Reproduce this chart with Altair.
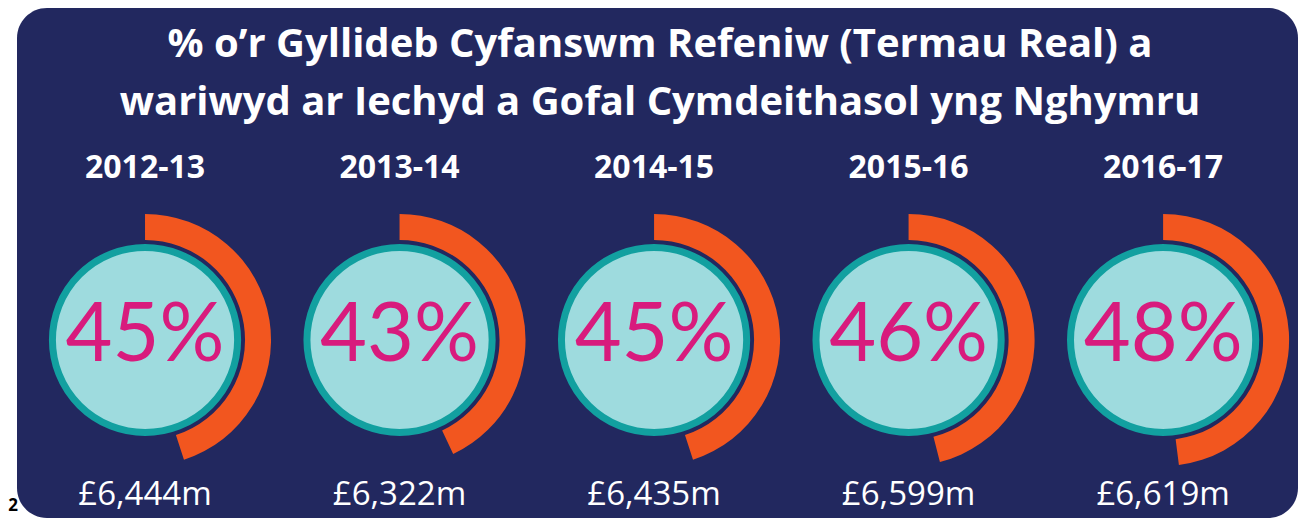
import altair as alt
import pandas as pd
import math

years = ["2012-13", "2013-14", "2014-15", "2015-16", "2016-17"]
pcts = [45, 43, 45, 46, 48]
amounts = ["£6,444m", "£6,322m", "£6,435m", "£6,599m", "£6,619m"]
title_lines = [
    "% o’r Gyllideb Cyfanswm Refeniw (Termau Real) a",
    "wariwyd ar Iechyd a Gofal Cymdeithasol yng Nghymru",
]
page_note = ["2"]

NAVY = "#22285f"
ORANGE = "#f2561f"
TEAL = "#12a0a0"
FILL = "#9edbde"
MAGENTA = "#d81b7d"
FONT = "Open Sans"
PCT_FONT = "Lato"

df = pd.DataFrame({
    "idx": list(range(len(years))),
    "year": years,
    "pct": pcts,
    "amount": amounts,
})
df["label"] = [f"{p}%" for p in pcts]

x_scale = alt.Scale(domain=[-0.503, 4.53])
x_enc = alt.X("idx:Q", scale=x_scale, axis=None, stack=None)
base = alt.Chart(df).encode(x=x_enc)

CY = 332

arcs = base.mark_arc(color=ORANGE, opacity=1).encode(
    y=alt.value(CY),
    theta=alt.Theta("pct:Q", stack=None,
                    scale=alt.Scale(domain=[0, 100], range=[0, 2 * math.pi], zero=True)),
    theta2=alt.value(0),
    radius=alt.value(126),
    radius2=alt.value(100),
)

circles = base.mark_point(
    shape="circle", filled=False, size=34300, fill=FILL, fillOpacity=1,
    stroke=TEAL, strokeOpacity=1, strokeWidth=7, opacity=1
).encode(y=alt.value(CY))

pct_text = base.mark_text(
    font=PCT_FONT, fontSize=81, fontWeight="normal", color=MAGENTA,
    align="center", baseline="alphabetic"
).encode(y=alt.value(353), text="label:N")

year_text = base.mark_text(
    font=FONT, fontSize=32, fontWeight="bold", color="white",
    align="center", baseline="alphabetic"
).encode(y=alt.value(170), text="year:N")

amount_text = base.mark_text(
    font=FONT, fontSize=33, color="white",
    align="center", baseline="alphabetic"
).encode(y=alt.value(497), text="amount:N")

tdf = pd.DataFrame({"line": title_lines, "row": [0, 1]})
title = alt.Chart(tdf).mark_text(
    font=FONT, fontSize=40, fontWeight="bold", color="white",
    align="center", baseline="alphabetic"
).encode(
    x=alt.value(643),
    y=alt.Y("row:Q", scale=alt.Scale(domain=[0, 1], range=[49, 107]), axis=None),
    text="line:N",
)

note = alt.Chart(pd.DataFrame({"t": page_note})).mark_text(
    font=FONT, fontSize=17, fontWeight="bold", color="black",
    align="center", baseline="alphabetic"
).encode(x=alt.value(-4), y=alt.value(503), text="t:N")

chart = alt.layer(
    arcs, circles, pct_text, year_text, amount_text, title, note
).properties(
    width=1281, height=510,
    padding={"left": 9, "top": 0, "right": 0, "bottom": 0},
    autosize="none",
    background="white",
).configure_view(fill=NAVY, cornerRadius=30, strokeWidth=0)

chart.save("out.html", embed_options={"renderer": "svg", "actions": False})
